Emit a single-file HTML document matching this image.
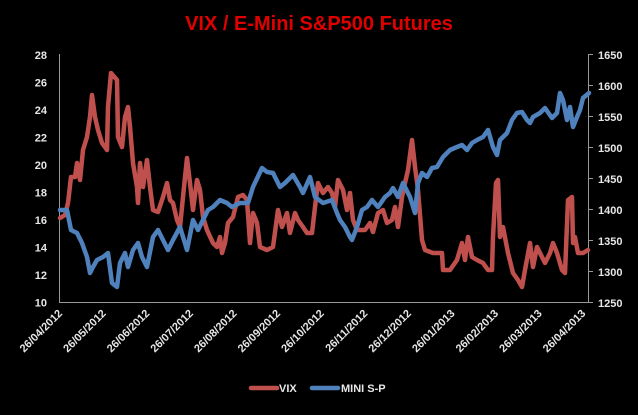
<!DOCTYPE html>
<html><head><meta charset="utf-8"><style>
body{margin:0;background:#000;width:638px;height:410px;overflow:hidden}
svg text{font-family:"Liberation Sans",sans-serif;font-weight:bold;fill:#e6e6e6;font-size:11px}
</style></head><body>
<svg width="638" height="410" viewBox="0 0 638 410">
<text x="319" y="30" text-anchor="middle" style="font-size:20px;fill:#e00000;font-weight:bold">VIX / E-Mini S&amp;P500 Futures</text>
<g stroke="#999" stroke-width="1" fill="none">
<path d="M59.5 54V302.5H588.5V54"/>
<path d="M588 54.5h5M588 85.5h5M588 116.5h5M588 147.5h5M588 178.5h5M588 209.5h5M588 240.5h5M588 271.5h5M588 302.5h5"/>
</g>
<g text-anchor="end">
<text x="47" y="59">28</text><text x="47" y="86.5">26</text><text x="47" y="114">24</text><text x="47" y="141.5">22</text><text x="47" y="169">20</text><text x="47" y="196.5">18</text><text x="47" y="224">16</text><text x="47" y="251.5">14</text><text x="47" y="279">12</text><text x="47" y="306.5">10</text>
</g>
<g>
<text x="598" y="59">1650</text><text x="598" y="90">1600</text><text x="598" y="121">1550</text><text x="598" y="152">1500</text><text x="598" y="183">1450</text><text x="598" y="214">1400</text><text x="598" y="245">1350</text><text x="598" y="276">1300</text><text x="598" y="307">1250</text>
</g>
<g text-anchor="end">
<text transform="translate(63,314) rotate(-45)">26/04/2012</text>
<text transform="translate(106.6,314) rotate(-45)">26/05/2012</text>
<text transform="translate(150.2,314) rotate(-45)">26/06/2012</text>
<text transform="translate(193.8,314) rotate(-45)">26/07/2012</text>
<text transform="translate(237.4,314) rotate(-45)">26/08/2012</text>
<text transform="translate(281,314) rotate(-45)">26/09/2012</text>
<text transform="translate(324.6,314) rotate(-45)">26/10/2012</text>
<text transform="translate(368.2,314) rotate(-45)">26/11/2012</text>
<text transform="translate(411.8,314) rotate(-45)">26/12/2012</text>
<text transform="translate(455.4,314) rotate(-45)">26/01/2013</text>
<text transform="translate(499,314) rotate(-45)">26/02/2013</text>
<text transform="translate(542.6,314) rotate(-45)">26/03/2013</text>
<text transform="translate(586.2,314) rotate(-45)">26/04/2013</text>
</g>
<g fill="none" stroke-width="4.5" stroke-linejoin="round" stroke-linecap="round">
<polyline stroke="#c0504d" points="60,218 65,215 68,203 71,177 75,177 77,163 80,180 83,150 87,137 90,117 92,95 95,117 98,130 102,143 107,150 108,107 111,73 117,80 118,137 122,147 125,117 128,107 130,127 133,163 137,187 138,203 140,163 143,187 147,160 150,187 153,210 158,212 163,197 167,183 170,200 173,203 177,220 180,227 183,197 187,158 190,183 193,210 197,180 200,190 203,217 207,230 213,243 217,247 220,237 222,253 225,243 228,223 233,217 238,197 243,195 247,200 250,243 253,213 257,223 260,247 267,250 273,247 278,210 282,227 287,213 290,233 295,213 298,220 303,227 307,233 312,233 315,207 318,183 323,193 328,187 332,193 335,207 338,180 343,190 347,210 350,193 353,220 357,230 360,230 365,230 370,223 373,232 378,213 383,210 387,223 392,220 395,207 398,227 402,197 405,183 408,170 412,140 415,167 418,190 422,240 425,250 433,253 442,253 443,270 450,270 457,260 462,243 465,260 468,237 472,257 477,260 483,263 488,270 492,270 493,237 496,183 498,180 500,237 503,227 508,253 513,273 518,280 522,287 525,270 530,243 533,267 537,247 540,253 545,263 550,253 553,243 557,253 562,270 565,273 568,200 572,197 573,243 575,237 578,253 583,253 588,250"/>
<polyline stroke="#4f81bd" points="60,210 67,210 71,230 77,233 82,243 87,257 90,273 93,267 97,260 103,257 108,253 112,283 117,287 120,263 125,253 128,267 133,250 138,243 142,257 147,267 153,237 158,230 163,240 168,250 173,240 180,227 187,250 193,220 198,230 203,220 208,210 213,207 220,200 227,203 232,207 240,203 248,203 253,187 262,168 267,172 273,173 280,187 285,183 293,175 300,187 303,193 310,177 315,197 323,203 332,200 337,213 340,220 345,227 350,237 352,240 357,227 362,210 367,207 372,200 378,207 385,197 390,193 393,188 398,197 403,183 410,197 415,213 418,183 422,173 427,177 432,168 437,167 443,157 450,150 457,147 462,145 467,150 472,143 477,140 483,137 488,130 493,147 497,155 500,140 507,133 512,120 517,113 522,112 527,120 530,123 533,117 540,113 545,108 552,118 557,113 560,93 563,100 567,120 570,107 573,127 577,117 580,110 583,98 589,93"/>
</g>
<line x1="251" y1="388" x2="277" y2="388" stroke="#c0504d" stroke-width="4.5" stroke-linecap="round"/>
<text x="279" y="392">VIX</text>
<line x1="312" y1="388" x2="338" y2="388" stroke="#4f81bd" stroke-width="4.5" stroke-linecap="round"/>
<text x="341" y="392">MINI S-P</text>
</svg>
</body></html>
